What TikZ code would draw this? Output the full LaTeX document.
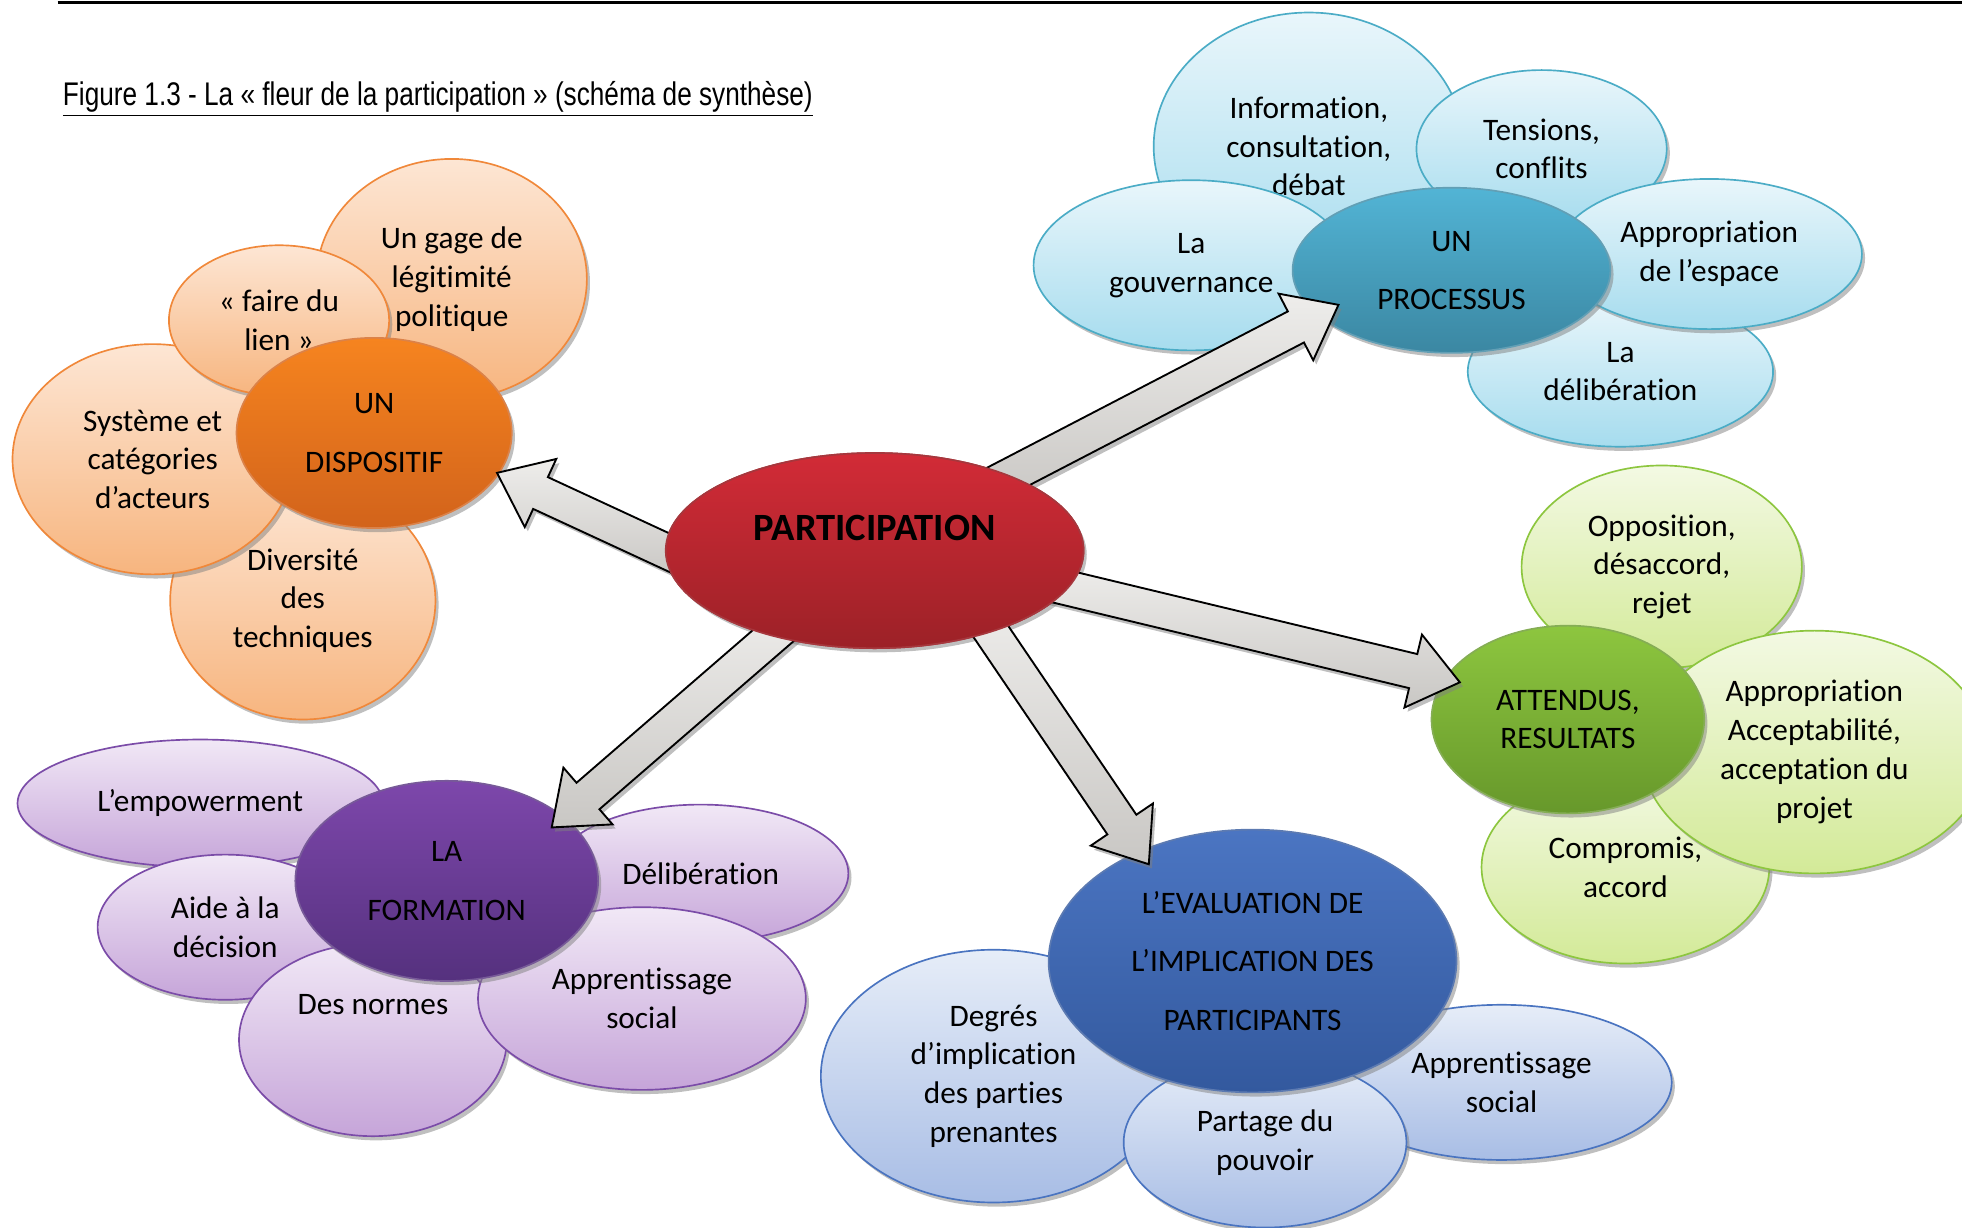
\documentclass[tikz,border=0pt]{standalone}
\usepackage{fontspec}
\setmainfont[Ligatures=NoCommon]{Carlito}
\newfontfamily\titlefont[FakeStretch=0.8]{Liberation Sans}
\usetikzlibrary{shapes.geometric,shadows,calc}

\definecolor{orangetop}{HTML}{FDE6D4}
\definecolor{orangebot}{HTML}{F7B57F}
\definecolor{orangeline}{HTML}{F0883A}
\definecolor{orangecoretop}{HTML}{F6841F}
\definecolor{orangecorebot}{HTML}{D2631B}
\definecolor{cyantop}{HTML}{E9F6FB}
\definecolor{cyanbot}{HTML}{A6DCEE}
\definecolor{cyanline}{HTML}{4BACC6}
\definecolor{cyancoretop}{HTML}{52B4D5}
\definecolor{cyancorebot}{HTML}{3B87A2}
\definecolor{greentop}{HTML}{F3F9E3}
\definecolor{greenbot}{HTML}{D3EA98}
\definecolor{greenline}{HTML}{8DC63F}
\definecolor{greencoretop}{HTML}{8DC63F}
\definecolor{greencorebot}{HTML}{67982B}
\definecolor{purpletop}{HTML}{F1E8F6}
\definecolor{purplebot}{HTML}{C6A5D9}
\definecolor{purpleline}{HTML}{7B4CA8}
\definecolor{purplecoretop}{HTML}{7D47AB}
\definecolor{purplecorebot}{HTML}{55317E}
\definecolor{bluetop}{HTML}{E6EDF8}
\definecolor{bluebot}{HTML}{A8BDE5}
\definecolor{blueline}{HTML}{4A74C0}
\definecolor{bluecoretop}{HTML}{4B75C2}
\definecolor{bluecorebot}{HTML}{33599E}
\definecolor{redtop}{HTML}{D22B37}
\definecolor{redbot}{HTML}{9C2127}
\definecolor{arrowtop}{HTML}{EEEDEB}
\definecolor{arrowbot}{HTML}{C9C7C4}

% grosse fleche : #1 depart, #2 pointe
\newcommand\blockarrow[2]{%
  \coordinate (ba-s) at (#1);
  \coordinate (ba-e) at (#2);
  \coordinate (ba-t) at ($(ba-s)!-15pt!(ba-e)$);
  \coordinate (ba-h) at ($(ba-e)!23pt!(ba-s)$);
  \draw[bigarrow] ($(ba-t)!8.4pt!90:(ba-e)$) -- ($(ba-h)!8.4pt!90:(ba-e)$)
    -- ($(ba-h)!18pt!90:(ba-e)$) -- (ba-e) -- ($(ba-h)!18pt!-90:(ba-e)$)
    -- ($(ba-h)!8.4pt!-90:(ba-e)$) -- ($(ba-t)!8.4pt!-90:(ba-e)$) -- cycle;
}

\begin{document}
\begin{tikzpicture}[x=0.6pt,y=-0.6pt,
    petal/.style={ellipse, line width=0.8pt, inner sep=0pt, align=center,
      font=\fontsize{15}{18.6}\selectfont,
      drop shadow={shadow xshift=1.5pt, shadow yshift=-2pt, fill=black!50, opacity=0.5}},
    heart/.style={petal, font=\fontsize{15}{28}\selectfont},
    orangepetal/.style={draw=orangeline, top color=orangetop, bottom color=orangebot},
    orangeheart/.style={draw=orangecorebot!80, top color=orangecoretop, bottom color=orangecorebot},
    cyanpetal/.style={draw=cyanline, top color=cyantop, bottom color=cyanbot},
    cyanheart/.style={draw=cyancorebot!80, top color=cyancoretop, bottom color=cyancorebot},
    greenpetal/.style={draw=greenline, top color=greentop, bottom color=greenbot},
    greenheart/.style={draw=greencorebot!80, top color=greencoretop, bottom color=greencorebot},
    purplepetal/.style={draw=purpleline, top color=purpletop, bottom color=purplebot},
    purpleheart/.style={draw=purplecorebot!80, top color=purplecoretop, bottom color=purplecorebot},
    bluepetal/.style={draw=blueline, top color=bluetop, bottom color=bluebot},
    blueheart/.style={draw=bluecorebot!80, top color=bluecoretop, bottom color=bluecorebot},
    bigarrow/.style={draw=black, line width=0.9pt, line join=miter, top color=arrowtop, bottom color=arrowbot,
      drop shadow={shadow xshift=1.5pt, shadow yshift=-2pt, fill=black!50, opacity=0.5}}]
    \useasboundingbox (0,0) rectangle (1568,981);

    % Titre
    \draw[line width=1pt] (46,2) -- (1568,2);
    \node[anchor=west, inner sep=0pt, font=\titlefont\fontsize{15.7}{18}\selectfont] (title) at (50,79)
      {\underline{Figure 1.3 - La « fleur de la participation » (schéma de synthèse)}};

    % Fleur orange : UN DISPOSITIF
    \node[petal, orangepetal, minimum width=129.6pt, minimum height=115.2pt] (gage) at (361,223) {Un gage de\\légitimité\\politique};
    \node[petal, orangepetal, minimum width=127.2pt, minimum height=114pt] (techn) at (242,480) {Diversité\\des\\techniques};
    \node[petal, orangepetal, minimum width=134.4pt, minimum height=110.4pt] (acteurs) at (122,367) {Système et\\catégories\\d’acteurs};
    \node[petal, orangepetal, minimum width=105.6pt, minimum height=72pt] (lien) at (223,256) {« faire du\\lien »};
    \node[heart, orangeheart, minimum width=132pt, minimum height=91.2pt] (disp) at (299,346) {UN\\DISPOSITIF};

    % Fleur bleu clair : UN PROCESSUS
    \node[petal, cyanpetal, minimum width=148.8pt, minimum height=128.4pt] (info) at (1046,117) {Information,\\consultation,\\débat};
    \node[petal, cyanpetal, minimum width=120pt, minimum height=75.6pt] (tensions) at (1232,119) {Tensions,\\conflits};
    \node[petal, cyanpetal, minimum width=146.4pt, minimum height=72pt] (delib) at (1295,297) {La\\délibération};
    \node[petal, cyanpetal, minimum width=146.4pt, minimum height=72pt] (espace) at (1366,203) {Appropriation\\de l’espace};
    \node[petal, cyanpetal, minimum width=151.2pt, minimum height=81.6pt] (gouv) at (952,212) {La\\gouvernance};
    \node[heart, cyanheart, minimum width=152.4pt, minimum height=79.2pt] (proc) at (1160,216) {UN\\PROCESSUS};

    % Fleur verte : ATTENDUS, RESULTATS
    \node[petal, greenpetal, minimum width=134.4pt, minimum height=97.2pt] (opp) at (1328,453) {Opposition,\\désaccord,\\rejet};
    \node[petal, greenpetal, minimum width=138pt, minimum height=92.4pt] (compr) at (1299,693) {Compromis,\\accord};
    \node[petal, greenpetal, minimum width=165.6pt, minimum height=116.4pt] (accept) at (1450,601) {Appropriation\\Acceptabilité,\\acceptation du\\projet};
    \node[petal, greenheart, minimum width=130.8pt, minimum height=90pt] (att) at (1253,575) {ATTENDUS,\\RESULTATS};

    % Fleur violette : LA FORMATION
    \node[petal, purplepetal, minimum width=175.2pt, minimum height=61.2pt] (empow) at (160,642) {L’empowerment};
    \node[petal, purplepetal, minimum width=122.4pt, minimum height=69.6pt] (aide) at (180,741) {Aide à la\\décision};
    \node[petal, purplepetal, minimum width=141.6pt, minimum height=66pt] (delib2) at (560,698) {Délibération};
    \node[petal, purplepetal, minimum width=128.4pt, minimum height=92.4pt] (normes) at (298,831) {};
    \node[font=\fontsize{15}{18.6}\selectfont] (normestxt) at (298,803) {Des normes};
    \node[petal, purplepetal, minimum width=157.2pt, minimum height=87.6pt] (apprs) at (513,798) {Apprentissage\\social};
    \node[heart, purpleheart, minimum width=145.2pt, minimum height=96pt] (form) at (357,704) {LA\\FORMATION};

    % Fleur bleue : L'EVALUATION
    \node[petal, bluepetal, minimum width=163.2pt, minimum height=74.4pt] (apprs2) at (1200,865) {Apprentissage\\social};
    \node[petal, bluepetal, minimum width=165.6pt, minimum height=121.2pt] (degres) at (794,860) {Degrés\\d’implication\\des parties\\prenantes};
    \node[petal, bluepetal, minimum width=135.6pt, minimum height=81.6pt] (pouvoir) at (1011,913) {Partage du\\pouvoir};
    \node[heart, blueheart, minimum width=195.6pt, minimum height=126pt] (eval) at (1001,768) {L’EVALUATION DE\\L’IMPLICATION DES\\PARTICIPANTS};

    % Centre et fleches
    \node[petal, draw=redbot!90, top color=redtop, bottom color=redbot, minimum width=200.4pt, minimum height=93.6pt] (part) at (699,440) {};
    \blockarrow{part.180}{$(disp.center)!0.98!(disp.-18)$}
    \blockarrow{part.29}{$(proc.center)!0.82!(proc.197)$}
    \blockarrow{part.-11}{$(att.center)!0.88!(att.161)$}
    \blockarrow{part.-35}{$(eval.center)!0.89!(eval.137)$}
    \blockarrow{part.220}{$(form.center)!0.87!(form.27)$}
    \node[ellipse, draw=redbot!90, line width=0.8pt, top color=redtop, bottom color=redbot, minimum width=200.4pt, minimum height=93.6pt] (partcover) at (part) {};
    \node[font=\bfseries\fontsize{18.5}{22}\selectfont] (parttxt) at ($(part)+(0,-18)$) {PARTICIPATION};
\end{tikzpicture}
\end{document}
